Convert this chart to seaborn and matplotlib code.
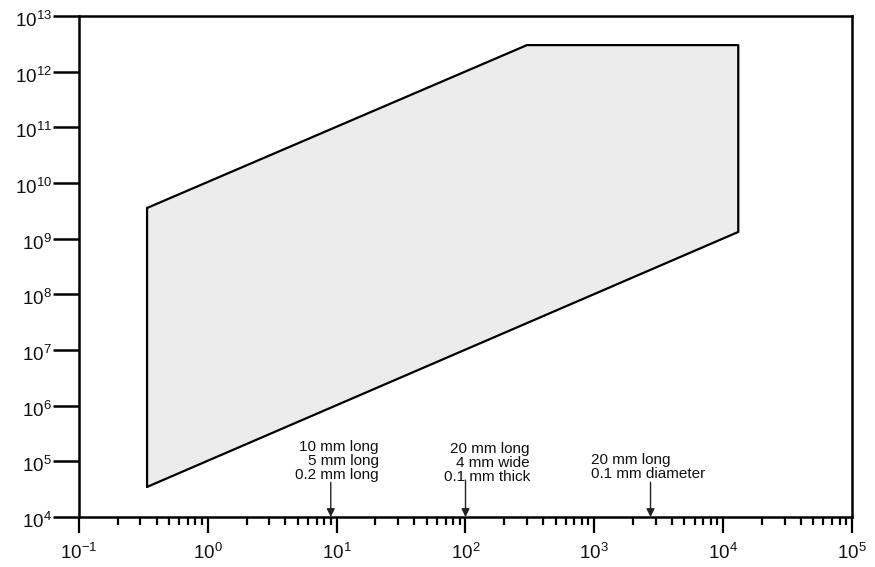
import numpy as np
import pandas as pd
import matplotlib
matplotlib.use("Agg")
import matplotlib.pyplot as plt
import matplotlib.transforms as mtransforms
import seaborn as sns
from matplotlib.ticker import FixedLocator, NullLocator, NullFormatter, LogFormatterSciNotation

# ---- data ----
region_x = [0.3375, 0.3375, 300.0, 1.31e4, 1.31e4, 0.3375]
region_y = [3.47e4, 3.56e9, 3.0e12, 3.0e12, 1.32e9, 3.47e4]

marker_x = [9.0, 100.0, 2.73e3]
marker_labels = [
    "10 mm long\n5 mm long\n0.2 mm long",
    "20 mm long\n4 mm wide\n0.1 mm thick",
    "20 mm long\n0.1 mm diameter",
]

x_limits = (1e-1, 1e5)
y_limits = (1e4, 1e13)

sns.set_theme(style="ticks")
plt.rcParams["font.family"] = ["Liberation Sans", "DejaVu Sans"]
plt.rcParams["axes.unicode_minus"] = False

W, H = 875, 567
fig = plt.figure(figsize=(W / 100, H / 100), dpi=100)
ax = fig.add_axes([79 / W, (H - 517) / H, (852 - 79) / W, (517 - 16) / H])
ax.set_xscale("log")
ax.set_yscale("log")
ax.set_xlim(*x_limits)
ax.set_ylim(*y_limits)

df = pd.DataFrame({"x": region_x, "y": region_y})
ax.fill(df["x"], df["y"], color="#ececec", zorder=1, lw=0)
sns.lineplot(data=df, x="x", y="y", sort=False, estimator=None,
             color="black", lw=1.6, ax=ax, zorder=2)
ax.set_xlabel("")
ax.set_ylabel("")

# annotations
text_pos = [(21.3, 1.03e5, "right"), (316.0, 9.3e4, "right"), (942.0, 7.8e4, "left")]
tail_y = [4.2e4, 4.6e4, 4.2e4]
for mx, lab, (tx, ty, ha), ty0 in zip(marker_x, marker_labels, text_pos, tail_y):
    ax.text(tx, ty, lab, ha=ha, va="center", multialignment=ha,
            fontsize=11, linespacing=1.0, color="#111111", zorder=3)
    ax.annotate("", xy=(mx, y_limits[0]), xytext=(mx, ty0),
                arrowprops=dict(arrowstyle="-|>", color="#222222", lw=1.0,
                                mutation_scale=12, shrinkA=0, shrinkB=0),
                zorder=3)

# axes styling
for s in ax.spines.values():
    s.set_linewidth(1.8)
    s.set_color("black")

lx0, lx1 = np.log10(x_limits)
ly0, ly1 = np.log10(y_limits)
x_major = 10.0 ** np.arange(lx0, lx1 + 1)
x_minor = np.concatenate([np.arange(2, 10) * d for d in x_major[:-1]])
y_major = 10.0 ** np.arange(ly0, ly1 + 1)

ax.xaxis.set_major_locator(FixedLocator(x_major))
ax.xaxis.set_major_formatter(LogFormatterSciNotation())
ax.xaxis.set_minor_locator(FixedLocator(x_minor))
ax.xaxis.set_minor_formatter(NullFormatter())
ax.yaxis.set_major_locator(FixedLocator(y_major))
ax.yaxis.set_major_formatter(LogFormatterSciNotation())
ax.yaxis.set_minor_locator(NullLocator())

ax.tick_params(axis="x", which="major", direction="out", length=11.5, width=1.6,
               color="black", labelsize=13.5, labelcolor="#111111", pad=7.5)
ax.tick_params(axis="x", which="minor", direction="out", length=6, width=1.6,
               color="black")
ax.tick_params(axis="y", which="major", direction="out", length=19, width=1.8,
               color="black", labelsize=13.5, labelcolor="#111111", pad=0.5)

fig.canvas.draw()
shift = mtransforms.ScaledTranslation(0, -3 / 100, fig.dpi_scale_trans)
for lbl in ax.get_yticklabels():
    lbl.set_transform(lbl.get_transform() + shift)

fig.savefig("out.png", dpi=100, facecolor="white")
